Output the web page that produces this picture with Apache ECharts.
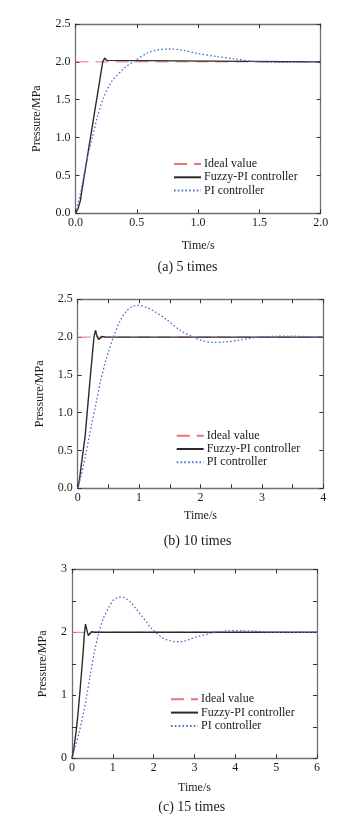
<!DOCTYPE html>
<html>
<head>
<meta charset="utf-8">
<script src="https://cdn.jsdelivr.net/npm/echarts@6/dist/echarts.min.js"></script>
<style>
html,body{margin:0;padding:0;background:#fff;}
#chart{width:350px;height:821px;}
</style>
</head>
<body>
<div id="chart"></div>
<script>
// ---- data (time in s, pressure in MPa) ----
const seriesNames = ['Ideal value', 'Fuzzy-PI controller', 'PI controller'];
const captions = ['(a) 5 times', '(b) 10 times', '(c) 15 times'];

const idealA = [[0, 2], [2, 2]];
const fuzzyA = [[0,0],[0.02,0.06],[0.04,0.17],[0.055,0.33],[0.1,0.78],[0.15,1.28],[0.2,1.78],[0.222,2.0],[0.238,2.05],[0.255,2.02],[0.27,2.0],[2.0,2.0]];
const piA = [[0,0],[0.037,0.24],[0.09,0.68],[0.137,1.0],[0.18,1.28],[0.227,1.52],[0.295,1.74],[0.4,1.92],[0.47,2.0],[0.59,2.12],[0.68,2.16],[0.76,2.17],[0.87,2.155],[1.0,2.11],[1.15,2.07],[1.29,2.04],[1.45,2.005],[1.6,1.995],[1.75,1.993],[1.9,1.998],[2.0,2.0]];

const idealB = [[0, 2], [4, 2]];
const fuzzyB = [[0,0],[0.03,0.12],[0.06,0.32],[0.12,0.68],[0.2,1.43],[0.265,2.0],[0.29,2.09],[0.315,2.01],[0.34,1.97],[0.37,1.99],[0.4,2.01],[0.45,2.0],[4,2.0]];
const piB = [[0,0],[0.06,0.18],[0.124,0.42],[0.23,0.86],[0.3,1.13],[0.37,1.41],[0.45,1.67],[0.5,1.8],[0.58,2.0],[0.7,2.23],[0.8,2.35],[0.9,2.41],[1.0,2.42],[1.1,2.4],[1.25,2.34],[1.45,2.23],[1.67,2.09],[1.88,2.0],[2.0,1.96],[2.2,1.93],[2.4,1.935],[2.6,1.955],[2.9,1.995],[3.2,2.01],[3.5,2.012],[3.8,2.005],[4,2.0]];

const idealC = [[0, 2], [6, 2]];
const fuzzyC = [[0,0],[0.05,0.18],[0.1,0.42],[0.14,0.66],[0.2,1.1],[0.277,1.72],[0.3,1.95],[0.33,2.13],[0.36,2.05],[0.4,1.95],[0.44,1.98],[0.48,2.01],[0.55,2.0],[6,2.0]];
const piC = [[0,0],[0.08,0.19],[0.18,0.42],[0.343,0.93],[0.45,1.33],[0.546,1.68],[0.645,1.96],[0.767,2.22],[0.89,2.38],[1.01,2.51],[1.134,2.555],[1.2,2.56],[1.257,2.555],[1.34,2.53],[1.46,2.46],[1.584,2.36],[1.707,2.26],[1.83,2.16],[1.91,2.09],[2.07,1.99],[2.18,1.93],[2.28,1.89],[2.4,1.867],[2.52,1.852],[2.645,1.85],[2.77,1.862],[2.89,1.89],[3.01,1.92],[3.18,1.95],[3.34,1.975],[3.46,2.0],[3.67,2.012],[3.83,2.025],[4.1,2.025],[4.44,2.02],[4.77,2.005],[5.3,1.997],[6,2.0]];

// axis ranges
const xMax = [2, 4, 6];
const xStep = [0.5, 0.5, 1];
const xLabelStep = [0.5, 1, 1];
const xDecimals = [1, 0, 0];
const yMax = [2.5, 2.5, 3];
const yStep = [0.5, 0.5, 0.5];
const yLabelStep = [0.5, 0.5, 1];
const yDecimals = [1, 1, 0];

// ---- layout ----
const FONT = "'Liberation Serif','Times New Roman',serif";
const TXT = '#1a1a1a';
const FRAME = '#727272';
const grids = [
  {left: 75.5, top: 24, width: 245.2, height: 189.3},
  {left: 77.7, top: 299.3, width: 245.6, height: 189},
  {left: 72, top: 569.3, width: 245, height: 189}
];
const yNameGap = [33, 32, 23];
const xNameGap = [27, 22, 23.5];
const legendPos = [{left: 173, top: 158}, {left: 175.7, top: 429.7}, {left: 170, top: 693.3}];
const captionPos = [{x: 187.5, y: 267.5}, {x: 197.5, y: 541.7}, {x: 191.7, y: 807.7}];

const dataSets = [[idealA, fuzzyA, piA], [idealB, fuzzyB, piB], [idealC, fuzzyC, piC]];

function isMult(v, step) {
  const r = v / step;
  return Math.abs(r - Math.round(r)) < 1e-6;
}

const xAxes = [], yAxes = [], series = [], legends = [], graphics = [];
for (let i = 0; i < 3; i++) {
  const baseX = {
    type: 'value', gridIndex: i, min: 0, max: xMax[i], interval: xStep[i],
    splitLine: {show: false},
    axisLine: {show: true, onZero: false, lineStyle: {color: FRAME, width: 1.3}},
    axisTick: {show: true, inside: true, length: 4, lineStyle: {color: '#333', width: 1}}
  };
  xAxes.push(Object.assign({}, baseX, {
    position: 'bottom',
    name: 'Time/s', nameLocation: 'middle', nameGap: xNameGap[i],
    nameTextStyle: {fontFamily: FONT, fontSize: 12, color: TXT},
    axisLabel: {
      show: true, margin: 4, fontFamily: FONT, fontSize: 12, color: TXT,
      formatter: v => isMult(v, xLabelStep[i]) ? v.toFixed(xDecimals[i]) : ''
    }
  }));
  xAxes.push(Object.assign({}, baseX, {position: 'top', axisLabel: {show: false}}));

  const baseY = {
    type: 'value', gridIndex: i, min: 0, max: yMax[i], interval: yStep[i],
    splitLine: {show: false},
    axisLine: {show: true, onZero: false, lineStyle: {color: FRAME, width: 1.3}},
    axisTick: {show: true, inside: true, length: 4, lineStyle: {color: '#333', width: 1}}
  };
  yAxes.push(Object.assign({}, baseY, {
    position: 'left',
    name: 'Pressure/MPa', nameLocation: 'middle', nameGap: yNameGap[i],
    nameTextStyle: {fontFamily: FONT, fontSize: 12, color: TXT},
    axisLabel: {
      show: true, margin: 5, fontFamily: FONT, fontSize: 12, color: TXT,
      formatter: v => isMult(v, yLabelStep[i]) ? v.toFixed(yDecimals[i]) : ''
    }
  }));
  yAxes.push(Object.assign({}, baseY, {position: 'right', axisLabel: {show: false}}));

  const [ideal, fuzzy, pi] = dataSets[i];
  series.push({
    name: seriesNames[0], type: 'line', xAxisIndex: 2 * i, yAxisIndex: 2 * i,
    data: ideal, symbol: 'none', z: 2, silent: true,
    lineStyle: {color: '#f07272', width: 1.0, type: [13, 7]},
    itemStyle: {color: '#f07272'}
  });
  series.push({
    name: seriesNames[1], type: 'line', xAxisIndex: 2 * i, yAxisIndex: 2 * i,
    data: fuzzy, symbol: 'none', z: 3, silent: true,
    lineStyle: {color: '#2a2a2a', width: 1.4, type: 'solid'},
    itemStyle: {color: '#2a2a2a'}
  });
  series.push({
    name: seriesNames[2], type: 'line', xAxisIndex: 2 * i, yAxisIndex: 2 * i,
    data: pi, symbol: 'none', z: 4, smooth: 0.3, silent: true,
    lineStyle: {color: '#4a72cc', width: 1.3, type: [1.6, 2.2]},
    itemStyle: {color: '#4a72cc'}
  });

  legends.push({
    orient: 'vertical', left: legendPos[i].left, top: legendPos[i].top,
    padding: 0, itemGap: 1.3, itemWidth: 27, itemHeight: 12,
    selectedMode: false,
    itemStyle: {opacity: 0},
    data: seriesNames,
    textStyle: {fontFamily: FONT, fontSize: 12, color: TXT, padding: [0, 0, 0, -2]}
  });

  graphics.push({
    type: 'text', x: captionPos[i].x, y: captionPos[i].y,
    style: {text: captions[i], fontFamily: FONT, fontSize: 14, fill: TXT,
            textAlign: 'center', textVerticalAlign: 'middle'}
  });
}

const chart = echarts.init(document.getElementById('chart'), null, {renderer: 'canvas'});
chart.setOption({
  backgroundColor: '#fff',
  animation: false,
  grid: grids,
  xAxis: xAxes,
  yAxis: yAxes,
  legend: legends,
  series: series,
  graphic: graphics
});
</script>
</body>
</html>
